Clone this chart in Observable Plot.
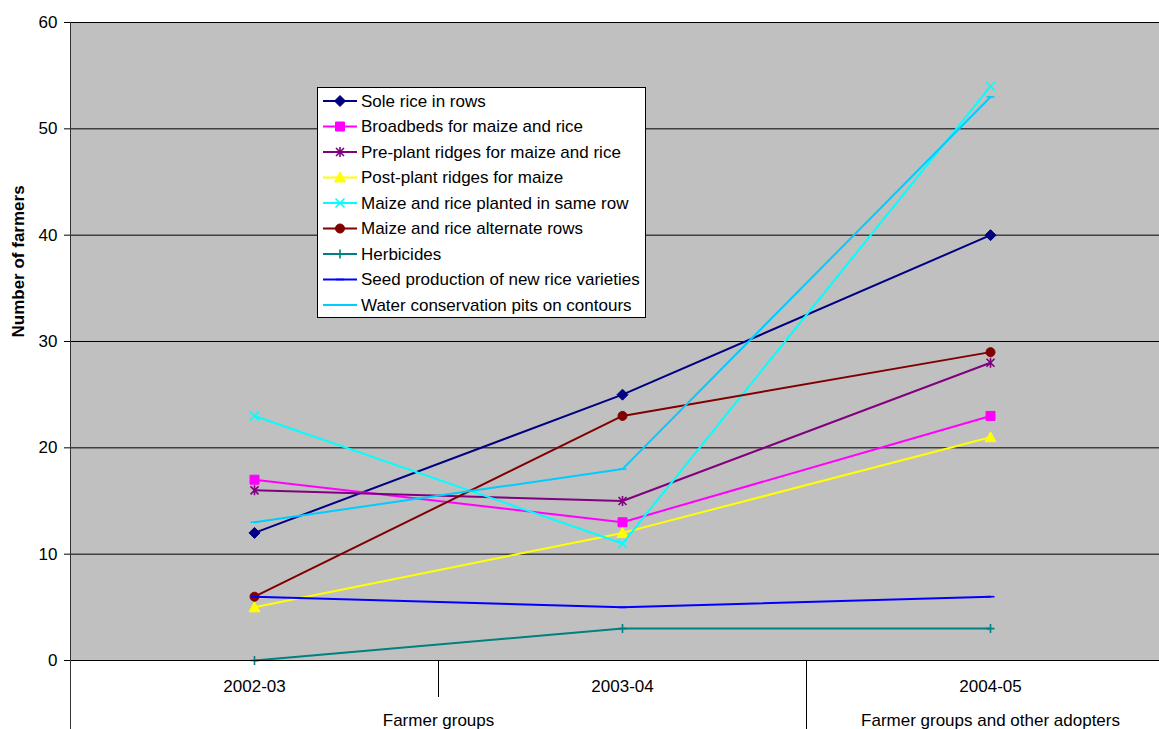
<!DOCTYPE html>
<html><head><meta charset="utf-8">
<script src="https://cdn.jsdelivr.net/npm/d3@7"></script>
<script src="https://cdn.jsdelivr.net/npm/@observablehq/plot@0.6"></script>
<style>html,body{margin:0;padding:0;background:#fff;overflow:hidden;} svg{display:block}</style>
</head><body><div id="chart"></div>
<script>
const categories = ["2002-03", "2003-04", "2004-05"];
const categoryGroups = ["Farmer groups", "Farmer groups", "Farmer groups and other adopters"];
const seriesNames = [
  "Sole rice in rows",
  "Broadbeds for maize and rice",
  "Pre-plant ridges for maize and rice",
  "Post-plant ridges for maize",
  "Maize and rice planted in same row",
  "Maize and rice alternate rows",
  "Herbicides",
  "Seed production of new rice varieties",
  "Water conservation pits on contours"
];
const soleRice = [12, 25, 40];
const broadbeds = [17, 13, 23];
const prePlant = [16, 15, 28];
const postPlant = [5, 12, 21];
const sameRow = [23, 11, 54];
const alternateRows = [6, 23, 29];
const herbicides = [0, 3, 3];
const seedProduction = [6, 5, 6];
const waterPits = [13, 18, 53];
const seriesValues = [soleRice, broadbeds, prePlant, postPlant, sameRow, alternateRows, herbicides, seedProduction, waterPits];
const seriesColors = ["#000080", "#FF00FF", "#800080", "#FFFF00", "#00FFFF", "#800000", "#008080", "#0000FF", "#00CCFF"];
const markerKinds = ["diamond", "square", "asterisk", "triangle", "times", "circle", "plus", "dash", "dash"];
const yTicks = [0, 10, 20, 30, 40, 50, 60];
const yLabel = "Number of farmers";

const symbols = {
  diamond: {draw(c){c.moveTo(0,-5.5);c.lineTo(5.5,0);c.lineTo(0,5.5);c.lineTo(-5.5,0);c.closePath();}},
  square: {draw(c){c.moveTo(-4.5,-4.5);c.lineTo(4.5,-4.5);c.lineTo(4.5,4.5);c.lineTo(-4.5,4.5);c.closePath();}},
  asterisk: {draw(c){c.moveTo(-4,-4);c.lineTo(4,4);c.moveTo(4,-4);c.lineTo(-4,4);c.moveTo(0,-5);c.lineTo(0,5);}},
  triangle: {draw(c){c.moveTo(0,-5.5);c.lineTo(5.5,4.5);c.lineTo(-5.5,4.5);c.closePath();}},
  times: {draw(c){c.moveTo(-4.5,-4.5);c.lineTo(4.5,4.5);c.moveTo(4.5,-4.5);c.lineTo(-4.5,4.5);}},
  circle: {draw(c){c.moveTo(4.5,0);c.arc(0,0,4.5,0,2*Math.PI);c.closePath();}},
  plus: {draw(c){c.moveTo(-4,0);c.lineTo(4,0);c.moveTo(0,-4.5);c.lineTo(0,4.5);}},
  dash: {draw(c){c.moveTo(-4,0);c.lineTo(4,0);}}
};
const filledKinds = new Set(["diamond", "square", "triangle", "circle"]);

// group spans derived from categories
const groupSpans = [];
categoryGroups.forEach((g, i) => {
  const last = groupSpans[groupSpans.length - 1];
  if (last && last.label === g) last.end = i; else groupSpans.push({label: g, start: i, end: i});
});
const boundaries = categories.slice(0, -1).map((c, i) => ({pos: i + 0.5, major: categoryGroups[i] !== categoryGroups[i + 1]}));

const rows = seriesNames.flatMap((name, s) => seriesValues[s].map((v, i) => ({name, s, i, v})));

const width = 1159, height = 729, mL = 70, mT = 22, mB = 69;
const font = "'Liberation Sans', Arial, sans-serif";

const seriesMarks = seriesNames.flatMap((name, s) => {
  const data = rows.filter(d => d.s === s);
  const kind = markerKinds[s];
  const filled = filledKinds.has(kind);
  return [
    Plot.line(data, {x: "i", y: "v", stroke: seriesColors[s], strokeWidth: 2}),
    Plot.dot(data, {x: "i", y: "v", symbol: symbols[kind], r: 4,
      fill: filled ? seriesColors[s] : "none", stroke: seriesColors[s], strokeWidth: filled ? 1 : 1.6})
  ];
});

const plot = Plot.plot({
  width, height,
  marginLeft: mL, marginRight: 0, marginTop: mT, marginBottom: mB,
  style: {fontSize: "17px", fontFamily: font, background: "#fff", color: "#000"},
  x: {axis: null, domain: [-0.5, categories.length - 0.5], range: [mL, 1174]},
  y: {domain: [0, 60], ticks: yTicks, tickSize: 6, tickPadding: 7, label: null},
  marks: [
    Plot.frame({fill: "#C0C0C0", stroke: "none"}),
    Plot.ruleY(yTicks.filter(t => t > 0), {stroke: "#000", strokeWidth: 1}),
    ...seriesMarks,
    Plot.ruleY([0], {stroke: "#000", strokeWidth: 1}),
    Plot.ruleX([-0.5], {stroke: "#333", strokeWidth: 1, insetBottom: -mB}),
    Plot.ruleX(boundaries.filter(b => b.major), {x: "pos", stroke: "#000", insetTop: height - mT - mB, insetBottom: -mB}),
    Plot.ruleX(boundaries.filter(b => !b.major), {x: "pos", stroke: "#000", insetTop: height - mT - mB, insetBottom: -37}),
    Plot.text(categories, {x: (d, i) => i, text: d => d, frameAnchor: "bottom", dy: 31, fill: "#000"}),
    Plot.text(groupSpans, {x: d => (d.start + d.end) / 2, text: "label", frameAnchor: "bottom", dy: 65, fill: "#000"}),
    Plot.text([yLabel], {text: d => d, frameAnchor: "left", rotate: -90, dx: -52, dy: -4, fontWeight: "bold", fill: "#000"})
  ]
});
document.getElementById("chart").appendChild(plot);

// legend
const svg = d3.select(plot);
const lg = svg.append("g").attr("font-family", font).attr("font-size", 17).attr("text-anchor", "start");
lg.append("rect").attr("x", 317.5).attr("y", 87.5).attr("width", 328).attr("height", 230)
  .attr("fill", "#fff").attr("stroke", "#000").attr("stroke-width", 1);
seriesNames.forEach((name, s) => {
  const cy = 101 + s * 25.5;
  const kind = markerKinds[s];
  const filled = filledKinds.has(kind);
  lg.append("line").attr("x1", 323).attr("x2", 357).attr("y1", cy).attr("y2", cy)
    .attr("stroke", seriesColors[s]).attr("stroke-width", 2);
  lg.append("path").attr("transform", `translate(340,${cy})`)
    .attr("d", d3.symbol().type(symbols[kind])())
    .attr("fill", filled ? seriesColors[s] : "none").attr("stroke", seriesColors[s])
    .attr("stroke-width", filled ? 1 : 1.6);
  lg.append("text").attr("x", 361).attr("y", cy).attr("dy", "0.35em").attr("fill", "#000").attr("text-anchor", "start").text(name);
});
</script></body></html>
